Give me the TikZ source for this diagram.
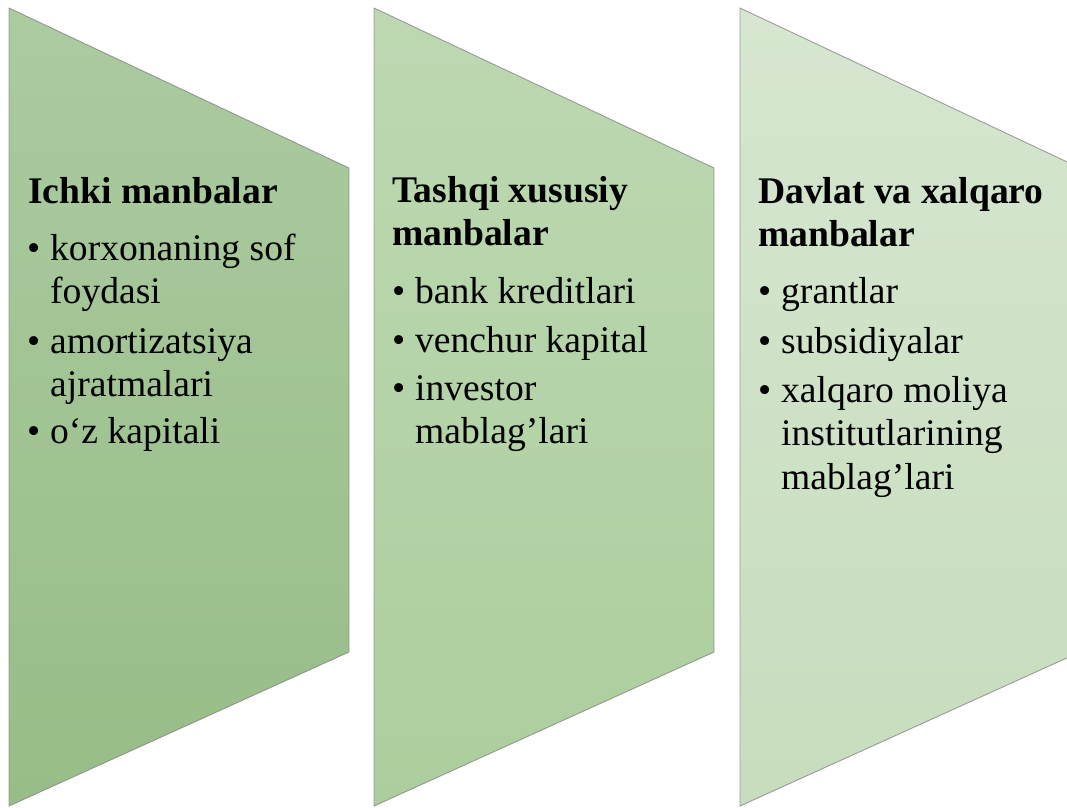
\documentclass[tikz,border=0pt]{standalone}
\usepackage{fontspec}
\setmainfont{Liberation Serif}
\definecolor{cat}{HTML}{ABCBA0}
\definecolor{cab}{HTML}{98BD88}
\definecolor{cbt}{HTML}{BDD8B2}
\definecolor{cbb}{HTML}{ACCE9D}
\definecolor{cct}{HTML}{D6E6D0}
\definecolor{ccb}{HTML}{C7DDBD}
\newcommand\bitem[1]{\begin{tabular}[t]{@{}l@{}l@{}}\makebox[23pt][l]{\textbullet} & #1\end{tabular}}
\newcommand\headtxt[1]{\begin{tabular}[t]{@{}l@{}}#1\end{tabular}}
\begin{document}
\begin{tikzpicture}[x=1pt,y=-1pt,
  panel/.style={line width=0.9pt, draw=black!50, draw opacity=0.75},
  head/.style={anchor=base west, inner sep=0pt, font=\fontsize{37.6}{43}\selectfont\bfseries},
  itm/.style={anchor=base west, inner sep=0pt, font=\fontsize{37.6}{43.5}\selectfont}]
\useasboundingbox (0,0) rectangle (1067,807);
\clip (0,0) rectangle (1067,807);
% panels
\shade[top color=cat, bottom color=cab] (9,8) -- (349,168) -- (349,652) -- (9,806) -- cycle;
\draw[panel] (9,8) -- (349,168) -- (349,652) -- (9,806) -- cycle;
\shade[top color=cbt, bottom color=cbb] (374,8) -- (714,168) -- (714,652) -- (374,806) -- cycle;
\draw[panel] (374,8) -- (714,168) -- (714,652) -- (374,806) -- cycle;
\shade[top color=cct, bottom color=ccb] (740,8) -- (1080,168) -- (1080,652) -- (740,806) -- cycle;
\draw[panel] (740,8) -- (1080,168) -- (1080,652) -- (740,806) -- cycle;
% column 1
\node[head] (h1) at (28,203) {\headtxt{Ichki manbalar}};
\node[itm] (a1) at (27,260) {\bitem{korxonaning sof\\ & foydasi}};
\node[itm] (a2) at (27,353) {\bitem{amortizatsiya\\ & ajratmalari}};
\node[itm] (a3) at (27,443) {\bitem{o‘z kapitali}};
% column 2
\node[head] (h2) at (392,202) {\headtxt{Tashqi xususiy\\manbalar}};
\node[itm] (b1) at (392,303) {\bitem{bank kreditlari}};
\node[itm] (b2) at (392,352) {\bitem{venchur kapital}};
\node[itm] (b3) at (392,400) {\bitem{investor\\ & mablag’lari}};
% column 3
\node[head] (h3) at (758,203) {\headtxt{Davlat va xalqaro\\manbalar}};
\node[itm] (c1) at (758,303) {\bitem{grantlar}};
\node[itm] (c2) at (758,353) {\bitem{subsidiyalar}};
\node[itm] (c3) at (758,402) {\bitem{xalqaro moliya\\ & institutlarining\\ & mablag’lari}};
\end{tikzpicture}
\end{document}
